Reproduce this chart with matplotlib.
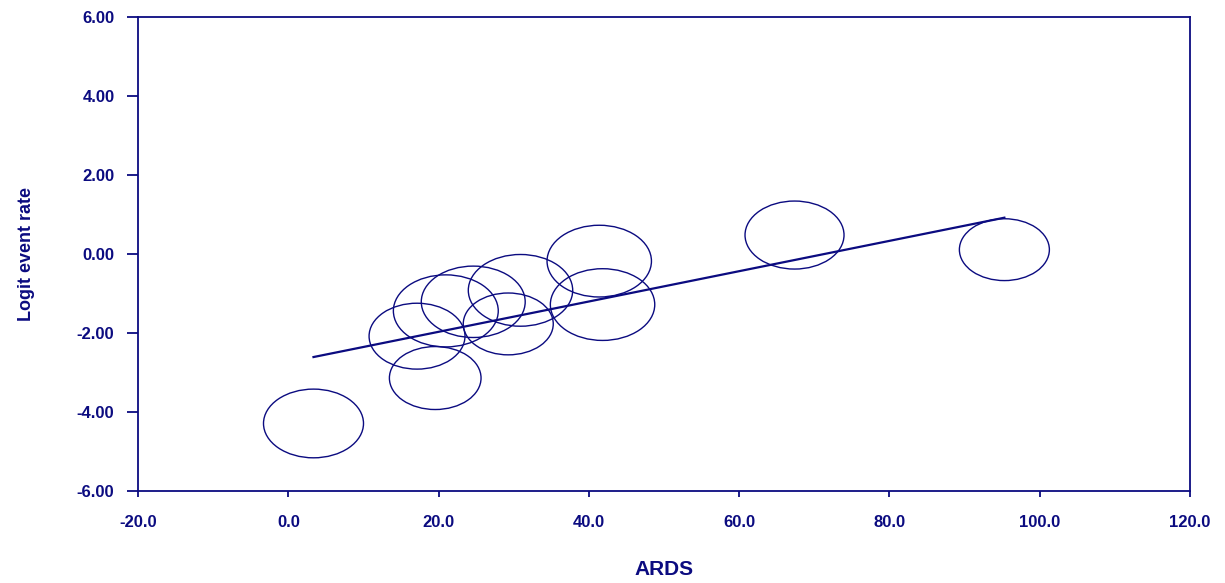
import numpy as np
import matplotlib
matplotlib.use("Agg")
import matplotlib.pyplot as plt
from matplotlib.collections import EllipseCollection

# study-level values: moderator (ARDS), logit event rate, relative weight
ards = [3.35, 19.55, 17.13, 20.96, 24.61, 29.27, 30.90, 41.38, 41.82, 67.37, 95.30]
logit_rate = [-4.29, -3.14, -2.08, -1.44, -1.21, -1.77, -0.92, -0.18, -1.28, 0.48, 0.11]
weights = [10.0, 8.4, 9.2, 11.0, 10.8, 8.1, 10.9, 10.9, 10.9, 9.8, 8.1]

# fitted meta-regression line
intercept = -2.737
slope = 0.03837

x_ticks = [-20, 0, 20, 40, 60, 80, 100, 120]
y_ticks = [-6, -4, -2, 0, 2, 4, 6]

navy = "#0b0b80"
plt.rcParams["font.family"] = ["Liberation Sans", "DejaVu Sans"]

fig = plt.figure(figsize=(12.25, 5.83), dpi=100)
ax = fig.add_axes([0.1127, 0.1578, 0.8587, 0.8130])

# bubbles drawn in screen units so they keep the flattened shape
w = np.array(weights)
diam = 100 * np.sqrt(w / 10.0)
ec = EllipseCollection(diam, diam * 0.687, np.zeros_like(diam), units="dots",
                       offsets=np.column_stack([ards, logit_rate]),
                       offset_transform=ax.transData,
                       facecolors="none", edgecolors=navy, linewidths=1.0)
ax.add_collection(ec)

xs = np.array([min(ards), max(ards)])
ax.plot(xs, intercept + slope * xs, color=navy, lw=1.6)

ax.set_xlim(-20, 120)
ax.set_ylim(-6, 6)
ax.set_xticks(x_ticks)
ax.set_yticks(y_ticks)
ax.set_xticklabels([f"{v:.1f}" for v in x_ticks])
ax.set_yticklabels([f"{v:.2f}" for v in y_ticks])

for s in ax.spines.values():
    s.set_color(navy)
    s.set_linewidth(1.3)

ax.tick_params(axis="x", direction="out", length=4, width=1.3, color=navy,
               labelcolor=navy, labelsize=12, pad=13)
ax.tick_params(axis="y", direction="out", length=8, width=1.3, color=navy,
               labelcolor=navy, labelsize=12, pad=9)
for lab in ax.get_xticklabels() + ax.get_yticklabels():
    lab.set_fontweight("bold")

ax.set_xlabel("ARDS", color=navy, fontsize=15, fontweight="bold", labelpad=22)
ax.set_ylabel("Logit event rate", color=navy, fontsize=13, fontweight="bold",
              labelpad=30)

fig.savefig("out.png", dpi=100)
